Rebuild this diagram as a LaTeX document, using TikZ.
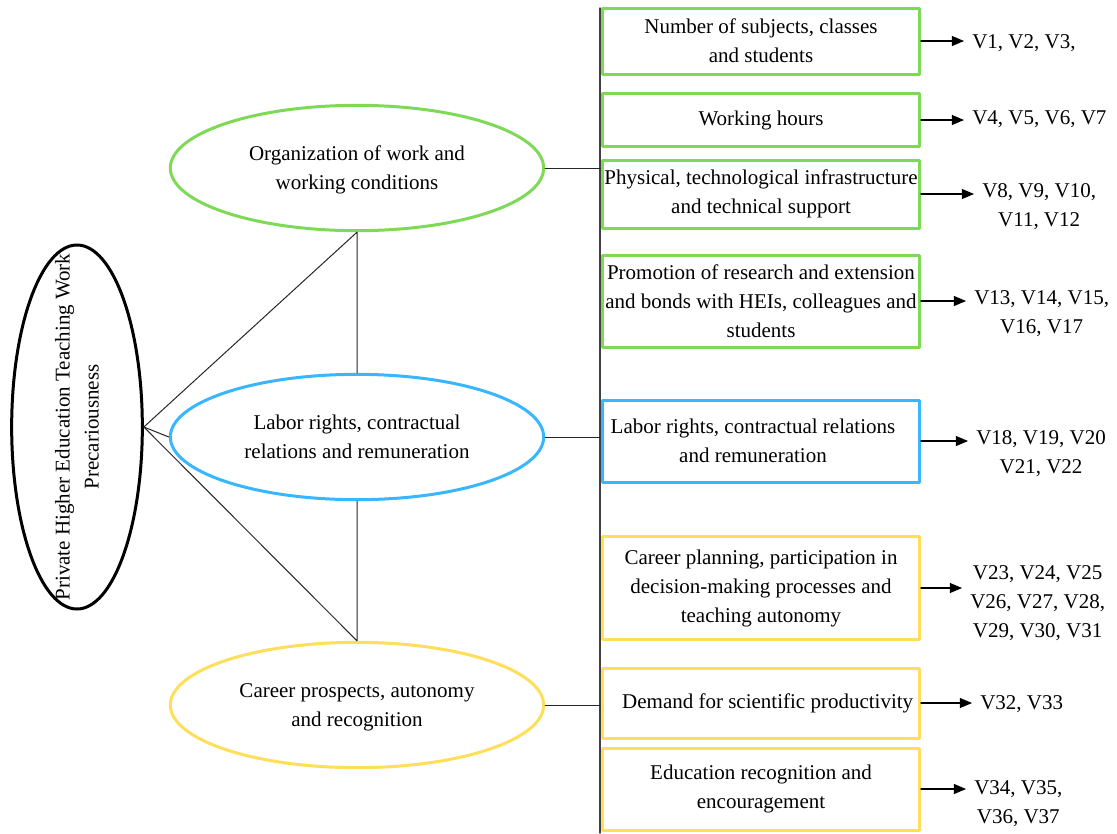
\documentclass[tikz,border=0pt]{standalone}
\usepackage{fontspec}
\setmainfont{Liberation Serif}
\usetikzlibrary{arrows,shapes.geometric}
\definecolor{dimgreen}{HTML}{7ED957}
\definecolor{dimblue}{HTML}{38B6FF}
\definecolor{dimyellow}{HTML}{FFDE59}
\tikzset{
  dimension/.style={ellipse,draw,line width=2.25pt,minimum width=280pt,minimum height=94pt,inner sep=0pt,align=center,text depth=-3.5pt},
  itembox/.style={rectangle,draw,line width=2.25pt,minimum width=237.75pt,inner xsep=0pt,align=center},
  varlabel/.style={anchor=west,align=center,inner xsep=6pt},
  link/.style={line width=0.75pt,black!85},
  toarrow/.style={->,line width=1.1pt}
}
\begin{document}
\begin{tikzpicture}[line cap=round,line join=round,>=triangle 45,x=0.75pt,y=-0.75pt,font=\fontsize{15.75}{21.75}\selectfont]
\useasboundingbox (0,0) rectangle (1117,833);
% construct and its three dimensions
\node (root) [ellipse,draw,line width=2.25pt,minimum width=98pt,minimum height=273pt,inner sep=0pt] at (77,427) {};
\node [rotate=90,align=center] at (root) {Private Higher Education Teaching Work\\Precariousness};
\node (org) [dimension,draw=dimgreen] at (357,168) {Organization of work and\\working conditions};
\node (lab) [dimension,draw=dimblue] at (357,437) {Labor rights, contractual\\relations and remuneration};
\node (car) [dimension,draw=dimyellow] at (357,705) {Career prospects, autonomy\\and recognition};
\draw [link] (root.east) -- (org.south) -- (lab.north);
\draw [link] (root.east) -- (lab.west);
\draw [link] (root.east) -- (car.north) -- (lab.south);
% bar
\coordinate (bartop) at (600,8);
\coordinate (barbot) at (600,833);
\draw [line width=1.1pt,black!75] (bartop) -- (barbot);
\draw [link] (org.east) -- (org.east -| bartop);
\draw [link] (lab.east) -- (lab.east -| bartop);
\draw [link] (car.east) -- (car.east -| bartop);
% indicators
\node (b1) [itembox,draw=dimgreen,minimum height=49.5pt] at (761,41) {Number of subjects, classes\\and students};
\node (b2) [itembox,draw=dimgreen,minimum height=39.75pt] at (761,120) {Working hours};
\node (b3) [itembox,draw=dimgreen,minimum height=51pt] at (761,194) {Physical, technological infrastructure\\and technical support};
\node (b4) [itembox,draw=dimgreen,minimum height=69pt] at (761,301) {Promotion of research and extension\\and bonds with HEIs, colleagues and\\students};
\node (b5) [itembox,draw=dimblue,minimum height=61.5pt] at (761,441) {\hspace{-12pt}Labor rights, contractual relations\\\hspace{-12pt}and remuneration};
\node (b6) [itembox,draw=dimyellow,minimum height=77.25pt] at (761,588) {Career planning, participation in\\decision-making processes and\\teaching autonomy};
\node (b7) [itembox,draw=dimyellow,minimum height=52.5pt] at (761,703) {\hspace{10pt}Demand for scientific productivity};
\node (b8) [itembox,draw=dimyellow,minimum height=61.5pt] at (761,789) {Education recognition and\\encouragement};
% variables
\node (v1) [varlabel] at (964,43) {V1, V2, V3,};
\node (v2) [varlabel] at (964,119) {V4, V5, V6, V7};
\node (v3) [varlabel] at (974,207) {V8, V9, V10,\\V11, V12};
\node (v4) [varlabel] at (966,314) {V13, V14, V15,\\V16, V17};
\node (v5) [varlabel] at (968,454) {V18, V19, V20\\V21, V22};
\node (v6) [varlabel] at (962,603) {V23, V24, V25\\V26, V27, V28,\\V29, V30, V31};
\node (v7) [varlabel] at (972,704) {V32, V33};
\node (v8) [varlabel] at (966,804) {V34, V35,\\V36, V37};
\foreach \i in {1,...,8}
  \draw [toarrow] (b\i.east) -- (b\i.east -| v\i.west);
\end{tikzpicture}
\end{document}
